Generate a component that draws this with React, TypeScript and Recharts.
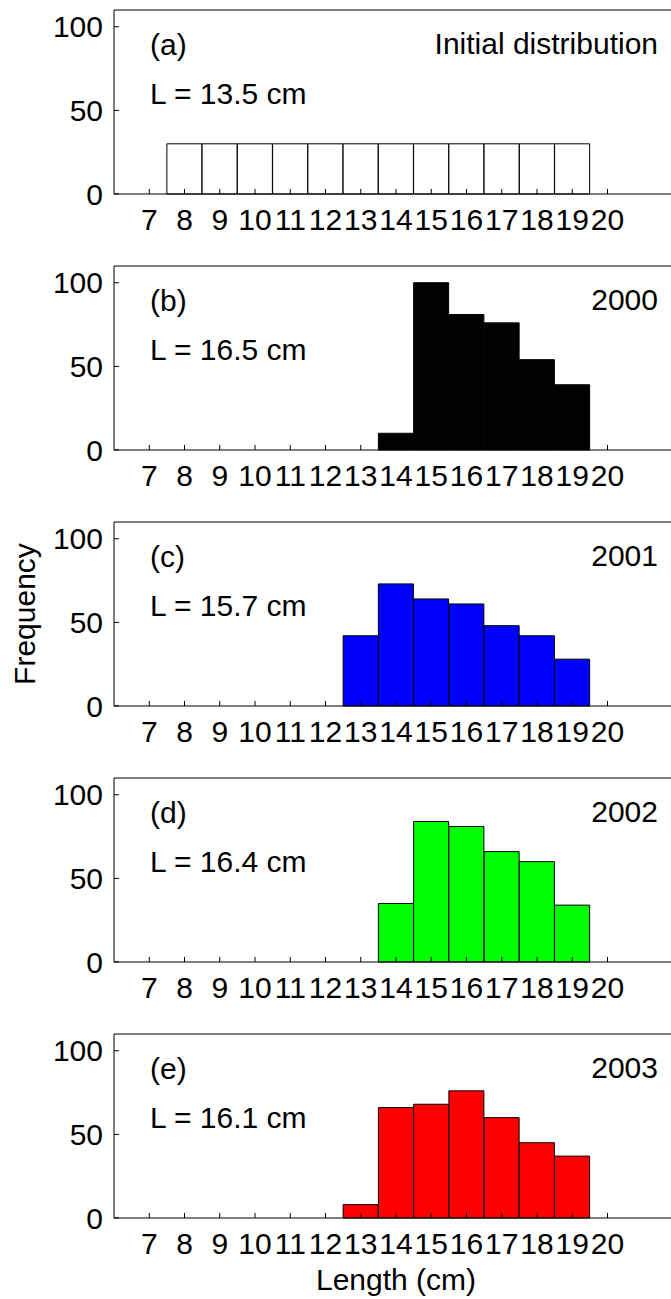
import { Bar, BarChart, XAxis, YAxis } from 'recharts';

// Length bins (cm) and counts per bin
const BINS = [7, 8, 9, 10, 11, 12, 13, 14, 15, 16, 17, 18, 19, 20];
const INITIAL = [0, 30, 30, 30, 30, 30, 30, 30, 30, 30, 30, 30, 30, 0];
const Y2000 = [0, 0, 0, 0, 0, 0, 0, 10, 100, 81, 76, 54, 39, 0];
const Y2001 = [0, 0, 0, 0, 0, 0, 42, 73, 64, 61, 48, 42, 28, 0];
const Y2002 = [0, 0, 0, 0, 0, 0, 0, 35, 84, 81, 66, 60, 34, 0];
const Y2003 = [0, 0, 0, 0, 0, 0, 8, 66, 68, 76, 60, 45, 37, 0];

const TAGS = ['(a)', '(b)', '(c)', '(d)', '(e)'];
const TITLES = ['Initial distribution', '2000', '2001', '2002', '2003'];
const MEANS = ['L = 13.5 cm', 'L = 16.5 cm', 'L = 15.7 cm', 'L = 16.4 cm', 'L = 16.1 cm'];
const SERIES = [INITIAL, Y2000, Y2001, Y2002, Y2003];
const FILLS = ['#ffffff', '#000000', '#0000ff', '#00ff00', '#ff0000'];

const FONT = '"Liberation Sans", Arial, Helvetica, sans-serif';
const FONT_SIZE = 30;
const X_DOMAIN: [number, number] = [6, 22];
const Y_DOMAIN: [number, number] = [0, 110];
const Y_TICKS = [0, 50, 100];

const PLOT_LEFT = 114;
const PLOT_TOP = 10;
const PLOT_H = 184;
const PLOT_W = 564;
const CHART_W = 690;
const PANEL_STEP = 256;

function Panel({ idx }: { idx: number }) {
  const rows = BINS.map((b, i) => ({ len: b, count: SERIES[idx][i] }));
  const last = idx === SERIES.length - 1;
  const height = last ? 275 : PANEL_STEP;
  const axisH = height - PLOT_TOP - PLOT_H;
  const rightX = 658;
  return (
    <div style={{ position: 'absolute', left: 0, top: idx * PANEL_STEP }}>
      <BarChart
        width={CHART_W}
        height={height}
        data={rows}
        barCategoryGap={0}
        barGap={0}
        margin={{ top: PLOT_TOP - 1, right: CHART_W - PLOT_LEFT - PLOT_W, left: 0, bottom: 0 }}
      >
        {/* top frame line with inward ticks */}
        <XAxis
          xAxisId="top"
          orientation="top"
          type="number"
          dataKey="len"
          domain={X_DOMAIN}
          ticks={BINS}
          interval={0}
          tick={false}
          tickSize={-5}
          height={1}
          axisLine={{ stroke: '#000' }}
          tickLine={{ stroke: '#000' }}
        />
        <XAxis
          type="number"
          dataKey="len"
          domain={X_DOMAIN}
          ticks={BINS}
          interval={0}
          tickSize={-5}
          tickMargin={20}
          height={axisH}
          axisLine={{ stroke: '#000' }}
          tickLine={{ stroke: '#000' }}
          tick={{ fill: '#000', fontSize: FONT_SIZE, fontFamily: FONT }}
          label={
            last
              ? { value: 'Length (cm)', position: 'insideBottom', offset: 9, fill: '#000', fontSize: FONT_SIZE, fontFamily: FONT }
              : undefined
          }
        />
        <YAxis
          type="number"
          domain={Y_DOMAIN}
          ticks={Y_TICKS}
          interval={0}
          width={PLOT_LEFT}
          tickSize={-5}
          tickMargin={16}
          axisLine={{ stroke: '#000' }}
          tickLine={{ stroke: '#000' }}
          tick={{ fill: '#000', fontSize: FONT_SIZE, fontFamily: FONT }}
          label={
            idx === 2
              ? {
                  content: () => (
                    <text
                      x={35}
                      y={PLOT_TOP + PLOT_H / 2}
                      transform={`rotate(-90, 35, ${PLOT_TOP + PLOT_H / 2})`}
                      textAnchor="middle"
                      fill="#000"
                      fontSize={FONT_SIZE}
                      fontFamily={FONT}
                    >
                      Frequency
                    </text>
                  ),
                }
              : undefined
          }
        />
        <Bar
          dataKey="count"
          fill={FILLS[idx]}
          stroke="#000"
          strokeWidth={1}
          isAnimationActive={false}
        />
        <g fontFamily={FONT} fontSize={FONT_SIZE} fill="#000">
          <text x={150} y={PLOT_TOP + 45}>{TAGS[idx]}</text>
          <text x={150} y={PLOT_TOP + 94}>{MEANS[idx]}</text>
          <text x={rightX} y={PLOT_TOP + 44} textAnchor="end">{TITLES[idx]}</text>
        </g>
      </BarChart>
    </div>
  );
}

export default function App() {
  return (
    <div
      style={{
        position: 'absolute',
        left: 0,
        top: 0,
        width: 671,
        height: 1299,
        overflow: 'hidden',
        background: '#fff',
        fontFamily: FONT,
      }}
    >
      {SERIES.map((_, i) => (
        <Panel key={i} idx={i} />
      ))}
    </div>
  );
}
